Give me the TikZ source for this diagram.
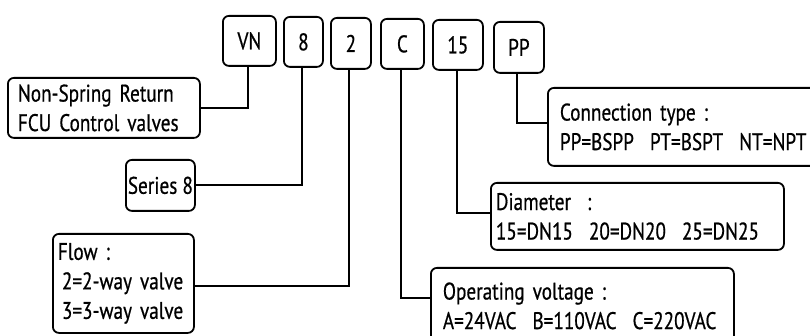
\documentclass[tikz,border=0pt]{standalone}
\usepackage{fontspec}
\setmainfont{PT Sans}[FakeStretch=0.8, FakeBold=0.6]
\begin{document}
\begin{tikzpicture}[x=1pt,y=-1pt,
  box/.style={draw, line width=1.8pt, rounded corners=6pt, anchor=north west, inner sep=0pt, font=\fontsize{24}{29.5}\selectfont},
  code/.style={box, align=center},
  desc/.style={box, align=left, inner ysep=0pt},
  conn/.style={line width=1.8pt}]
\useasboundingbox (0,0) rectangle (810,336);
% code boxes
\node[code, minimum width=53pt, minimum height=50pt] (vn) at (222,15) {VN};
\node[code, minimum width=39pt, minimum height=50pt] (s8) at (283,16) {8};
\node[code, minimum width=40pt, minimum height=51pt] (s2) at (330,17) {2};
\node[code, minimum width=43pt, minimum height=50pt] (sc) at (380,18) {C};
\node[code, minimum width=50pt, minimum height=50pt] (s15) at (432,19) {15};
\node[code, minimum width=50pt, minimum height=51pt] (spp) at (493,21) {PP};
% description boxes
\node[desc, inner xsep=10pt, minimum height=60pt, text width=172pt] (nsr) at (7,77) {Non-Spring Return\\FCU Control valves};
\node[code, minimum width=69pt, minimum height=51pt] (ser) at (125,159) {Series 8};
\node[desc, inner xsep=5pt, minimum height=99pt, text width=131pt] (flow) at (52,233) {Flow :\\\hspace*{4pt}2=2-way valve\\\hspace*{4pt}3=3-way valve};
\node[desc, inner xsep=12pt, minimum height=78pt, text width=259pt] (con) at (547,87) {Connection type :\\PP=BSPP\ \ PT=BSPT\ \ NT=NPT};
\node[desc, inner xsep=5pt, minimum height=67pt, text width=283pt] (dia) at (490,182) {Diameter\ \ :\\15=DN15\ \ 20=DN20\ \ 25=DN25};
\node[desc, inner xsep=12pt, minimum height=76pt, text width=279pt] (vol) at (430,267) {Operating voltage :\\A=24VAC\ \ B=110VAC\ \ C=220VAC};
% connectors
\draw[conn] (vn.south -| 248,0) |- (nsr.east |- 0,108);
\draw[conn] (s8.south -| 302,0) |- (ser.east |- 0,185);
\draw[conn] (s2.south -| 349,0) |- (flow.east |- 0,286);
\draw[conn] (sc.south -| 401,0) |- (vol.west |- 0,298);
\draw[conn] (s15.south -| 457,0) |- (dia.west |- 0,213);
\draw[conn] (spp.south -| 517,0) |- (con.west |- 0,123);
\end{tikzpicture}
\end{document}
